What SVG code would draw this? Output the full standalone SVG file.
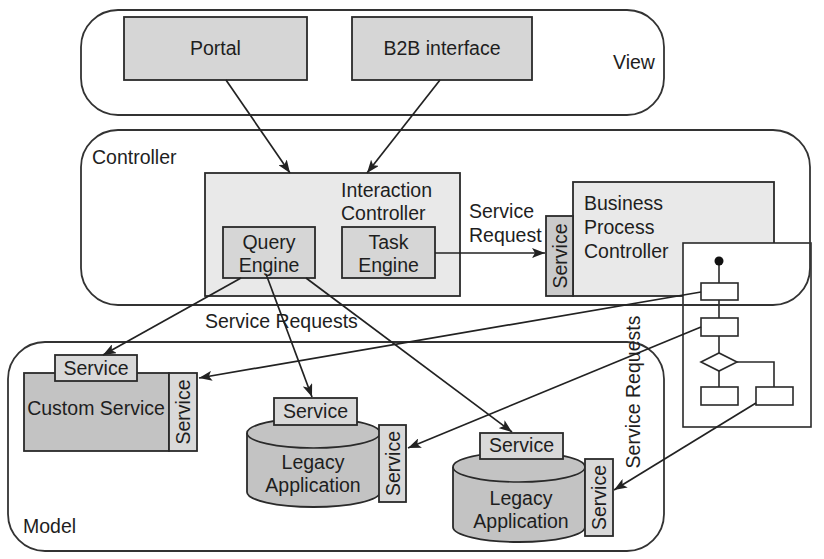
<svg xmlns="http://www.w3.org/2000/svg" width="824" height="559" viewBox="0 0 824 559">
<defs>
<style>
text{font-family:"Liberation Sans",Arial,sans-serif;font-size:19.5px;fill:#1e1e1e}
.c{text-anchor:middle}
.cont{fill:none;stroke:#333;stroke-width:1.8}
.box{stroke:#2a2a2a;stroke-width:1.8}
.g1{fill:#d6d6d6}
.g2{fill:#e9e9e9}
.g3{fill:#c3c3c3}
.tab{fill:#d9d9d9;stroke:#2a2a2a;stroke-width:1.8}
.wf{fill:#fff;stroke:#2a2a2a;stroke-width:1.6}
.ln{fill:none;stroke:#2a2a2a;stroke-width:1.6}
.ar{fill:none;stroke:#222;stroke-width:1.7;marker-end:url(#ah)}
</style>
<marker id="ah" markerUnits="userSpaceOnUse" markerWidth="14" markerHeight="10" refX="13" refY="5" orient="auto">
<path d="M0,0 L13,5 L0,10 L3,5 Z" fill="#222"/>
</marker>
</defs>
<rect width="824" height="559" fill="#fff"/>

<g id="view">
<rect class="cont" x="81" y="10" width="583" height="105" rx="37" ry="37"/>
<text x="613" y="69">View</text>
</g>
<g id="portal">
<rect class="box g1" x="124" y="17" width="183" height="63"/>
<text class="c" x="215.5" y="55">Portal</text>
</g>
<g id="b2b">
<rect class="box g1" x="352" y="17" width="180" height="63"/>
<text class="c" x="442" y="55">B2B interface</text>
</g>

<g id="interaction-controller">
<rect class="box g2" x="205" y="173" width="255" height="123"/>
<text x="341" y="197">Interaction</text>
<text x="341" y="220">Controller</text>
</g>
<g id="query-engine">
<rect class="box g1" x="223" y="227" width="92" height="51"/>
<text class="c" x="269" y="249">Query</text>
<text class="c" x="269" y="272">Engine</text>
</g>
<g id="task-engine">
<rect class="box g1" x="342" y="227" width="93" height="51"/>
<text class="c" x="388.5" y="249">Task</text>
<text class="c" x="388.5" y="272">Engine</text>
</g>
<g id="business-process-controller">
<rect class="box g2" x="573" y="182" width="201" height="114"/>
<rect class="box" fill="#cacaca" x="546" y="216" width="27" height="80"/>
<text class="c" transform="translate(566.5,256) rotate(-90)">Service</text>
<text x="584" y="210">Business</text>
<text x="584" y="234">Process</text>
<text x="584" y="258">Controller</text>
</g>
<g id="process-flow">
<rect class="wf" x="683" y="243" width="128" height="184"/>
<path class="ln" d="M719,261 V283 M719,300 V318 M719,336 V353 M719,371 V387 M737,362 H774 V387"/>
<circle cx="719" cy="261" r="4.5" fill="#111"/>
<rect class="wf" x="701" y="283" width="37" height="17"/>
<rect class="wf" x="701" y="318" width="37" height="18"/>
<path class="wf" d="M701,362 L719,353 L737,362 L719,371 Z"/>
<rect class="wf" x="701" y="387" width="37" height="18"/>
<rect class="wf" x="756" y="387" width="37" height="18"/>
</g>
<g id="controller">
<rect class="cont" x="81" y="130" width="729" height="175" rx="37" ry="37"/>
<text x="92" y="164">Controller</text>
</g>

<g id="model">
<rect class="cont" x="8" y="342" width="656" height="209" rx="37" ry="37"/>
<text x="23" y="533">Model</text>
</g>
<g id="custom-service">
<rect class="box g3" x="24" y="373" width="145" height="78"/>
<rect class="tab" x="55" y="355" width="82" height="26"/>
<text class="c" x="96" y="375">Service</text>
<rect class="tab" x="169" y="373" width="28" height="78"/>
<text class="c" transform="translate(190,412) rotate(-90)">Service</text>
<text class="c" x="96" y="415">Custom Service</text>
</g>
<g id="legacy-application-1">
<path class="box g3" d="M247,433 A66.5,15 0 0 1 380,433 L380,492 A66.5,15 0 0 1 247,492 Z"/>
<path class="ln" d="M247,433 A66.5,15 0 0 0 380,433"/>
<rect class="tab" x="274" y="398" width="83" height="27"/>
<text class="c" x="315.5" y="418">Service</text>
<rect class="tab" x="379" y="425" width="27" height="77"/>
<text class="c" transform="translate(399.5,463.5) rotate(-90)">Service</text>
<text class="c" x="313" y="469">Legacy</text>
<text class="c" x="313" y="492">Application</text>
</g>
<g id="legacy-application-2">
<path class="box g3" d="M453,467 A66,15 0 0 1 585,467 L585,527 A66,15 0 0 1 453,527 Z"/>
<path class="ln" d="M453,467 A66,15 0 0 0 585,467"/>
<rect class="tab" x="480" y="433" width="83" height="26"/>
<text class="c" x="521.5" y="452">Service</text>
<rect class="tab" x="585" y="459" width="28" height="77"/>
<text class="c" transform="translate(606,497.5) rotate(-90)">Service</text>
<text class="c" x="521" y="505">Legacy</text>
<text class="c" x="521" y="528">Application</text>
</g>

<g id="connectors">
<line class="ar" x1="226" y1="80" x2="290" y2="173"/>
<line class="ar" x1="440" y1="80" x2="367" y2="173"/>
<line class="ar" x1="435" y1="253" x2="545" y2="253"/>
<line class="ar" x1="241" y1="278" x2="103" y2="355"/>
<line class="ar" x1="266" y1="274" x2="312" y2="397"/>
<line class="ar" x1="306" y1="278" x2="512" y2="432"/>
<line class="ar" x1="701" y1="292" x2="199" y2="378"/>
<line class="ar" x1="701" y1="327" x2="408" y2="448"/>
<line class="ar" x1="756" y1="403" x2="614" y2="490"/>
</g>
<g id="labels">
<text x="469" y="218">Service</text>
<text x="469" y="242">Request</text>
<text x="205" y="328">Service Requests</text>
<text class="c" transform="translate(640,392) rotate(-90)">Service Requests</text>
</g>
</svg>
